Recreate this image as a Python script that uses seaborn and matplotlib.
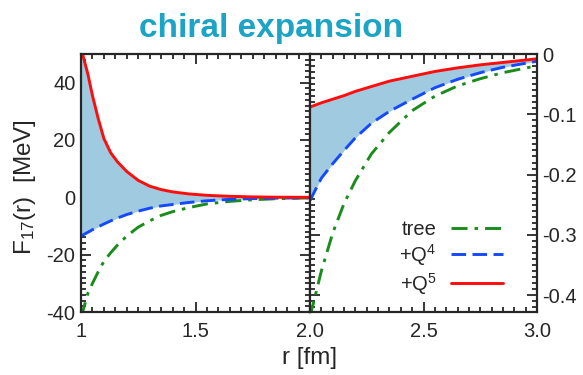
import numpy as np
import pandas as pd
import matplotlib
matplotlib.use("Agg")
import matplotlib.pyplot as plt
import seaborn as sns
from matplotlib.ticker import MultipleLocator, FixedLocator, FixedFormatter

# Radial grids (fm) for the short- and long-range panels
r_short = [1.0, 1.03, 1.05, 1.075, 1.1, 1.13, 1.16, 1.2, 1.25, 1.3, 1.35, 1.4,
           1.47, 1.55, 1.65, 1.75, 1.85, 2.0]
r_long = [2.0, 2.05, 2.1, 2.15, 2.2, 2.27, 2.35, 2.45, 2.55, 2.65, 2.75, 2.85, 3.0]

# F17(r) in MeV at each chiral order
tree_short = [-42.0, -33.5, -30.0, -26.0, -22.3, -19.3, -16.6, -13.5, -10.4, -8.2, -6.3, -5.0,
              -3.6, -2.3, -1.4, -0.85, -0.5, -0.2]
q4_short = [-13.5, -12.2, -11.3, -10.3, -9.3, -8.2, -7.2, -6.0, -4.8, -3.8, -3.0, -2.5,
            -1.8, -1.2, -0.7, -0.45, -0.3, -0.15]
q5_short = [52.0, 43.0, 35.5, 27.5, 20.5, 15.5, 12.3, 9.0, 5.9, 3.9, 2.7, 1.9,
            1.2, 0.7, 0.35, 0.15, 0.05, 0.0]

tree_long = [-0.436, -0.36, -0.297, -0.248, -0.21, -0.166, -0.13, -0.094, -0.07, -0.053, -0.041, -0.031, -0.0195]
q4_long = [-0.243, -0.206, -0.182, -0.160, -0.139, -0.115, -0.095, -0.075, -0.056, -0.042, -0.031, -0.022, -0.012]
q5_long = [-0.088, -0.081, -0.075, -0.069, -0.062, -0.054, -0.045, -0.037, -0.029, -0.023, -0.018, -0.014, -0.008]

orders = ["tree", "+Q$^{4}$", "+Q$^{5}$"]
colors = {"tree": "#1a8c1a", "+Q$^{4}$": "#1549ff", "+Q$^{5}$": "#ff0d0d"}
dashes = {"tree": (5.5, 2.4, 1.2, 2.4), "+Q$^{4}$": (5.0, 2.2), "+Q$^{5}$": ""}
band_color = "#9fcae0"


def long_frame(r, tree, q4, q5):
    parts = []
    for name, vals in zip(orders, [tree, q4, q5]):
        parts.append(pd.DataFrame({"r": r, "F": vals, "order": name}))
    return pd.concat(parts, ignore_index=True)


df_short = long_frame(r_short, tree_short, q4_short, q5_short)
df_long = long_frame(r_long, tree_long, q4_long, q5_long)

sns.set_style("ticks")
plt.rcParams["font.family"] = ["Liberation Sans", "DejaVu Sans"]
plt.rcParams["mathtext.fontset"] = "custom"
plt.rcParams["mathtext.rm"] = "Liberation Sans"
plt.rcParams["mathtext.it"] = "Liberation Sans"
plt.rcParams["axes.unicode_minus"] = False

fig = plt.figure(figsize=(5.83, 3.75), dpi=100)
W, H = 583.0, 375.0
bottom, top = 312.0, 54.0
axL = fig.add_axes([81 / W, 1 - bottom / H, 229 / W, (bottom - top) / H])
axR = fig.add_axes([310 / W, 1 - bottom / H, 227 / W, (bottom - top) / H])

for ax, df, r, lo, hi in [(axL, df_short, r_short, q4_short, q5_short),
                          (axR, df_long, r_long, q4_long, q5_long)]:
    ax.fill_between(r, lo, hi, color=band_color, lw=0, zorder=1)
    sns.lineplot(data=df, x="r", y="F", hue="order", style="order",
                 hue_order=orders, style_order=orders, palette=colors,
                 dashes=dashes, linewidth=2.1, legend=False, ax=ax, zorder=3)
    ax.set_xlabel("")
    ax.set_ylabel("")
    for s in ax.spines.values():
        s.set_linewidth(1.6)
        s.set_visible(True)
        s.set_zorder(5)
    ax.tick_params(which="both", direction="in", top=True, bottom=True,
                   left=True, right=True, width=1.3, labelsize=14.5, pad=4)
    ax.tick_params(axis="x", which="both", pad=7)
    ax.tick_params(which="major", length=7)
    ax.tick_params(which="minor", length=3.5)

# Left panel: 1 - 2 fm
axL.set_xlim(1.0, 2.0)
axL.set_ylim(-40, 50)
axL.xaxis.set_major_locator(FixedLocator([1.0, 1.5, 2.0]))
axL.xaxis.set_major_formatter(FixedFormatter(["1", "1.5", ""]))
axL.xaxis.set_minor_locator(MultipleLocator(0.05))
axL.yaxis.set_major_locator(MultipleLocator(20))
axL.yaxis.set_minor_locator(MultipleLocator(2))
axL.tick_params(labelright=False, labelleft=True)

# Right panel: 2 - 3 fm, values on the right axis
axR.set_xlim(2.0, 3.0)
axR.set_ylim(-0.428, 0.0)
axR.xaxis.set_major_locator(FixedLocator([2.0, 2.5, 3.0]))
axR.xaxis.set_major_formatter(FixedFormatter(["2.0", "2.5", "3.0"]))
axR.xaxis.set_minor_locator(MultipleLocator(0.05))
axR.yaxis.set_major_locator(FixedLocator([0.0, -0.1, -0.2, -0.3, -0.4]))
axR.yaxis.set_major_formatter(FixedFormatter(["0", "-0.1", "-0.2", "-0.3", "-0.4"]))
axR.yaxis.set_minor_locator(MultipleLocator(0.01))
axR.tick_params(labelleft=False, labelright=True)

# Legend with labels before the line samples
handles = []
for o in orders:
    h = plt.Line2D([], [], color=colors[o], lw=2.1, linestyle="-")
    if dashes[o]:
        h.set_dashes(dashes[o])
    handles.append(h)
axR.legend(handles, orders, loc="lower right", bbox_to_anchor=(0.85, 0.06),
           frameon=False, markerfirst=False, fontsize=14.5, handlelength=2.6,
           labelspacing=0.15, handletextpad=0.7, borderaxespad=0.0,
           borderpad=0.0)

fig.text(271 / W, 1 - 28 / H, "chiral expansion", ha="center", va="center",
         fontsize=24, fontweight="bold", color="#1ba4c6")
fig.text(310 / W, 1 - 358 / H, "r [fm]", ha="center", va="center", fontsize=17.5)
fig.text(25 / W, 1 - 187 / H, "F$_{17}$(r)  [MeV]", ha="center", va="center",
         rotation=90, fontsize=17.5)

fig.savefig("out.png", dpi=100)
